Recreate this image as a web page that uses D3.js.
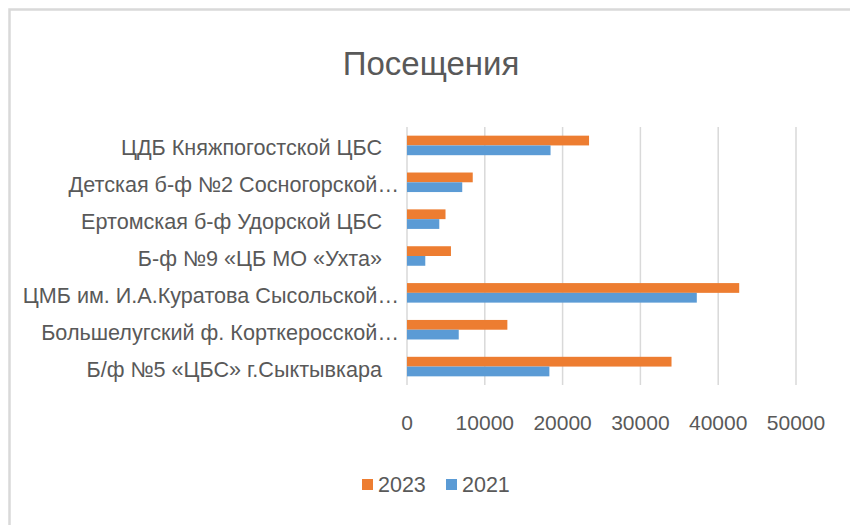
<!DOCTYPE html>
<html>
<head>
<meta charset="utf-8">
<title>Посещения</title>
<script src="https://cdnjs.cloudflare.com/ajax/libs/d3/7.8.5/d3.min.js"></script>
<style>
  body { margin: 0; background: #fff; }
  text { font-family: "Liberation Sans", Arial, sans-serif; fill: #595959; }
</style>
</head>
<body>
<script>
// categories, top to bottom as shown
var categories = [
  "ЦДБ Княжпогостской ЦБС",
  "Детская б-ф №2 Сосногорской…",
  "Ертомская б-ф Удорской ЦБС",
  "Б-ф №9 «ЦБ МО «Ухта»",
  "ЦМБ им. И.А.Куратова Сысольской…",
  "Большелугский ф. Корткеросской…",
  "Б/ф №5 «ЦБС» г.Сыктывкара"
];
var series = ["2023", "2021"];
var values2023 = [23400, 8450, 4950, 5650, 42700, 12900, 34000];
var values2021 = [18450, 7100, 4150, 2350, 37250, 6650, 18300];
var xTicks = [0, 10000, 20000, 30000, 40000, 50000];
var colors = ["#ed7d31", "#5b9bd5"];

var width = 850, height = 525;

var svg = d3.select("body").append("svg")
    .attr("width", width)
    .attr("height", height);

// chart border (runs off the right and bottom edge)
svg.append("rect")
    .attr("x", 9.5).attr("y", 9.5)
    .attr("width", 900).attr("height", 600)
    .attr("fill", "none")
    .attr("stroke", "#d9d9d9")
    .attr("stroke-width", 2.5);

svg.append("text")
    .attr("x", 431).attr("y", 75)
    .attr("text-anchor", "middle")
    .attr("font-size", 33)
    .text("Посещения");

var x = d3.scaleLinear().domain([0, 50000]).range([407, 796]);
var y = d3.scaleBand().domain(categories).range([127, 385])
    .paddingInner(0.47).paddingOuter(0.235);
var ySub = d3.scaleBand().domain(series).range([0, y.bandwidth()]);

// gridlines
svg.append("g").selectAll("line")
    .data(xTicks)
    .join("line")
    .attr("x1", d => x(d)).attr("x2", d => x(d))
    .attr("y1", 127).attr("y2", 385)
    .attr("stroke", "#d9d9d9")
    .attr("stroke-width", 1.5);

// tick labels
svg.append("g").selectAll("text")
    .data(xTicks)
    .join("text")
    .attr("x", d => x(d))
    .attr("y", 430)
    .attr("text-anchor", "middle")
    .attr("font-size", 21)
    .text(d => d);

// category labels
svg.append("g").selectAll("text")
    .data(categories)
    .join("text")
    .attr("x", d => d.endsWith("…") ? 399 : 382)
    .attr("y", d => y(d) + y.bandwidth() / 2 + 10)
    .attr("text-anchor", "end")
    .attr("font-size", 21.6)
    .text(d => d);

// bars
var rows = categories.map(function(c, i) {
  return { cat: c, vals: [values2023[i], values2021[i]] };
});

var groups = svg.append("g").selectAll("g")
    .data(rows)
    .join("g")
    .attr("transform", d => "translate(0," + y(d.cat) + ")");

groups.selectAll("rect")
    .data(d => d.vals.map((v, j) => ({ s: series[j], v: v, j: j })))
    .join("rect")
    .attr("x", x(0))
    .attr("y", d => ySub(d.s))
    .attr("width", d => x(d.v) - x(0))
    .attr("height", ySub.bandwidth())
    .attr("fill", d => colors[d.j]);

// legend
var legend = svg.append("g").selectAll("g")
    .data(series)
    .join("g")
    .attr("transform", (d, i) => "translate(" + (362 + i * 84) + ",0)");

legend.append("rect")
    .attr("x", 0).attr("y", 479)
    .attr("width", 11).attr("height", 11)
    .attr("fill", (d, i) => colors[i]);

legend.append("text")
    .attr("x", 16).attr("y", 492)
    .attr("font-size", 21.5)
    .text(d => d);
</script>
</body>
</html>
